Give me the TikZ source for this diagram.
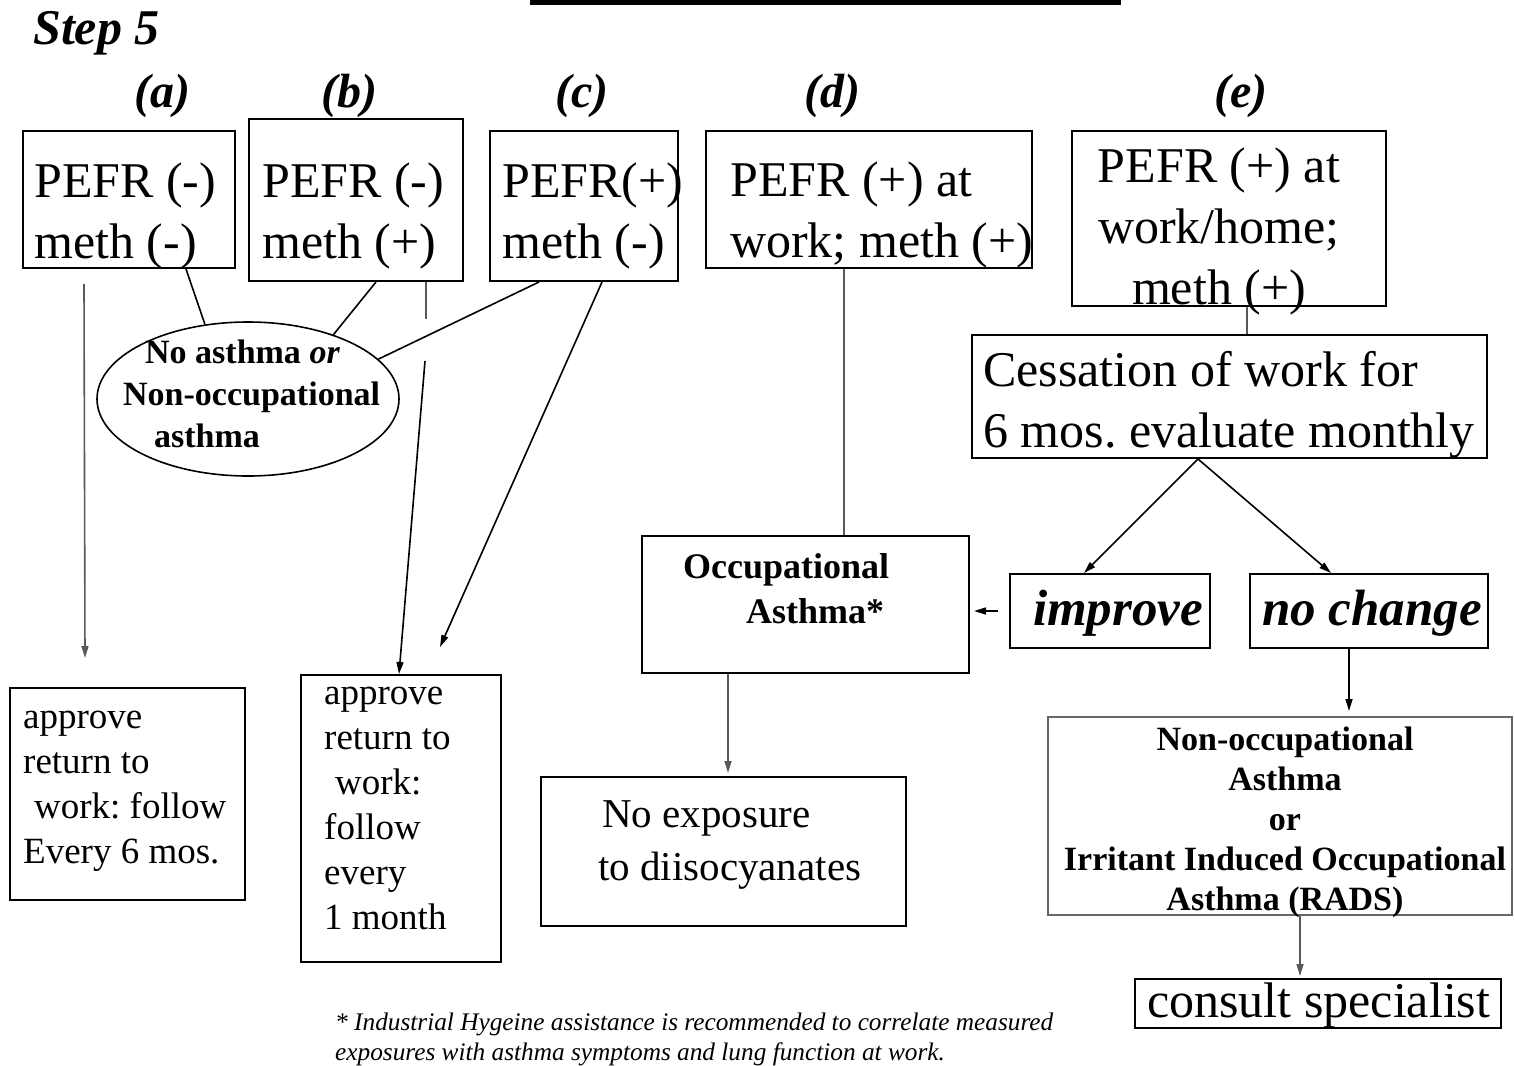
\documentclass[tikz,border=0pt]{standalone}
\usepackage{fontspec}
\setmainfont{Liberation Serif}
\usetikzlibrary{arrows.meta,shapes.geometric}
\frenchspacing

\begin{document}
\begin{tikzpicture}[x=1pt,y=-1pt,
    box/.style={draw,line width=2pt,inner sep=0pt},
    txt/.style={inner sep=0pt,anchor=base west,align=left},
    big/.style={font=\fontsize{50}{61}\selectfont},
    mid/.style={font=\fontsize{37}{45}\selectfont},
    ln/.style={line width=1.6pt},
    arr/.style={line width=1.6pt,-{Triangle[length=12pt,width=7pt]}},
    lbl/.style={inner sep=0pt,anchor=base,font=\fontsize{48}{56}\selectfont\bfseries\itshape},
    res/.style={inner sep=0pt,anchor=base,font=\fontsize{51}{56}\selectfont\bfseries\itshape}]
    \useasboundingbox (0,0) rectangle (1514,1065);
    \fill (530,0) rectangle (1121,5);

    \node[txt,font=\fontsize{50}{60}\selectfont\bfseries\itshape] (step) at (33,45) {Step 5};
    \node[lbl] (la) at (162,107) {(a)};
    \node[lbl] (lb) at (349,107) {(b)};
    \node[lbl] (lc) at (582,107) {(c)};
    \node[lbl] (ld) at (832,107) {(d)};
    \node[lbl] (le) at (1241,107) {(e)};

    \node[box,minimum width=212,minimum height=137] (pefrA) at (129,199.5) {};
    \node[box,minimum width=214,minimum height=162] (pefrB) at (356,200) {};
    \node[box,minimum width=188,minimum height=150] (pefrC) at (584,206) {};
    \node[box,minimum width=326,minimum height=137] (pefrD) at (869,199.5) {};
    \node[box,minimum width=314,minimum height=175] (pefrE) at (1229,218.5) {};
    \node[txt,big] (tA) at (34,258) {PEFR (-)\\meth (-)};
    \node[txt,big] (tB) at (262,258) {PEFR (-)\\meth (+)};
    \node[txt,big] (tC) at (502,258) {PEFR(+)\\meth (-)};
    \node[txt,big] (tD) at (730,257) {PEFR (+) at\\work; meth (+)};
    \node[txt,big,anchor=base,align=center] (tE) at (1219,304) {PEFR (+) at\\work/home;\\meth (+)};

    \node[ellipse,draw,line width=1.6pt,minimum width=302,minimum height=154,inner sep=0pt] (noasthma) at (248,399) {};
    \node[txt,font=\fontsize{34}{42}\selectfont\bfseries] (tNo) at (123,447) {\hspace*{22pt}No asthma \textit{or}\\Non-occupational\\\hspace*{31pt}asthma};

    \node[box,minimum width=515,minimum height=123] (cess) at (1229.5,396.5) {};
    \node[txt,big] (tCess) at (983,447) {Cessation of work for\\6 mos. evaluate monthly};

    \node[box,minimum width=327,minimum height=137] (occ) at (805.5,604.5) {};
    \node[txt,font=\fontsize{36}{45}\selectfont\bfseries] (tOcc) at (683,623) {Occupational\\\hspace*{63pt}Asthma*};
    \node[box,minimum width=200,minimum height=74] (improve) at (1110,611) {};
    \node[res] (tImp) at (1118,625) {improve};
    \node[box,minimum width=238,minimum height=74] (nochange) at (1369,611) {};
    \node[res] (tNoch) at (1372,625) {no change};

    \node[box,draw=black!60,minimum width=464,minimum height=198] (nonocc) at (1280,816) {};
    \node[txt,anchor=base,align=center,font=\fontsize{34}{40}\selectfont\bfseries] (tNonocc) at (1285,910) {Non-occupational\\Asthma\\or\\Irritant Induced Occupational\\Asthma (RADS)};
    \node[box,minimum width=366,minimum height=49] (consult) at (1318,1003.5) {};
    \node[txt,font=\fontsize{50}{60}\selectfont] (tCons) at (1147,1017) {consult specialist};

    \node[box,minimum width=365,minimum height=149] (noexp) at (723.5,851.5) {};
    \node[txt,font=\fontsize{41}{53}\selectfont] (tNoexp) at (598,880) {\hspace*{4pt}No exposure\\to diisocyanates};

    \node[box,minimum width=235,minimum height=212] (approveA) at (127.5,794) {};
    \node[txt,mid] (tAppA) at (23,863) {approve\\return to\\\hspace*{11pt}work: follow\\Every 6 mos.};
    \node[box,minimum width=200,minimum height=287] (approveB) at (401,818.5) {};
    \node[txt,mid] (tAppB) at (324,929) {approve\\return to\\\hspace*{11pt}work:\\follow\\every\\1 month};

    \node[txt,font=\fontsize{25.3}{30}\selectfont\itshape] (note) at (335,1060) {* Industrial Hygeine assistance is recommended to correlate measured\\exposures with asthma symptoms and lung function at work.};

    \coordinate (aEnd) at (85,658);
    \coordinate (cEnd) at (440,647);

    \draw[arr,black!65] ([xshift=62pt,yshift=-15pt]pefrA.south west) -- (aEnd);
    \draw[ln] ([xshift=164pt]pefrA.south west) -- (noasthma.120);
    \draw[ln] ([xshift=128pt]pefrB.south west) -- (noasthma.37);
    \draw[ln] ([xshift=50pt]pefrC.south west) -- (noasthma.17);
    \draw[ln,black!65] ([xshift=178pt]pefrB.south west) -- ++(0,37);
    \draw[arr] ([xshift=177pt,yshift=-79pt]pefrB.south west) -- ([xshift=99pt]approveB.north west);
    \draw[arr] ([xshift=113pt]pefrC.south west) -- (cEnd);
    \draw[ln,black!65] ([xshift=139pt]pefrD.south west) -- ([xshift=139pt]pefrD.south west |- occ.north);
    \draw[ln,black!65] ([xshift=176pt]pefrE.south west) -- ([xshift=176pt]pefrE.south west |- cess.north);
    \draw[arr] ([xshift=227pt]cess.south west) -- ([xshift=75pt]improve.north west);
    \draw[arr] ([xshift=227pt]cess.south west) -- ([xshift=82pt]nochange.north west);
    \draw[arr] ([xshift=-11pt]improve.west) -- ([xshift=4pt]occ.east |- improve.west);
    \draw[arr] ([xshift=100pt]nochange.south west) -- ++(0,62);
    \draw[arr,black!65] ([xshift=87pt]occ.south west) -- ++(0,99);
    \draw[arr,black!65] ([xshift=253pt]nonocc.south west) -- ++(0,60);
\end{tikzpicture}
\end{document}
